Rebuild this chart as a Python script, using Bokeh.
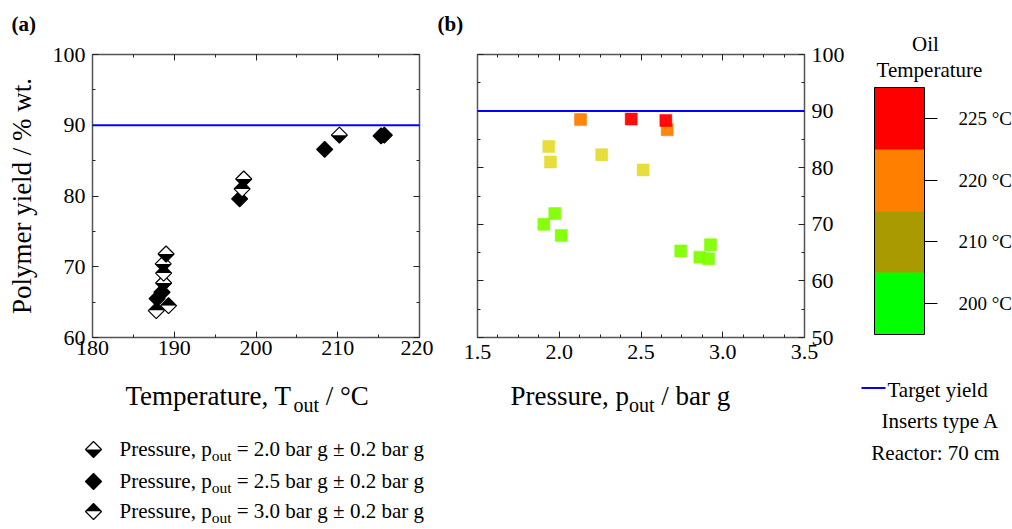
import math
from bokeh.plotting import figure
from bokeh.layouts import row, column
from bokeh.models import (Range1d, LinearAxis, SingleIntervalTicker, Span,
                          ColorBar, LinearColorMapper, FixedTicker, CustomJSTickFormatter,
                          PrintfTickFormatter)
from bokeh.core.properties import value
from bokeh.embed import file_html
from bokeh.resources import INLINE

# ---------------- data ----------------
# (a) polymer yield vs outlet temperature, grouped by outlet pressure
temp_p20 = [189.0, 188.65, 188.7, 198.5, 210.2]
yield_p20 = [71.8, 70.4, 67.7, 82.4, 88.6]
temp_p25 = [188.5, 187.9, 198.0, 208.4, 215.3, 215.7]
yield_p25 = [66.4, 65.5, 79.6, 86.6, 88.5, 88.6]
temp_p30 = [188.7, 189.3, 187.8, 198.3]
yield_p30 = [69.1, 64.5, 63.8, 81.0]

# (b) polymer yield vs outlet pressure, grouped by oil temperature
pres_200 = [1.973, 1.906, 2.012, 2.743, 2.860, 2.913, 2.925]
yield_200 = [71.9, 70.0, 68.0, 65.3, 64.2, 63.9, 66.4]
pres_210 = [1.936, 1.946, 2.260, 2.513]
yield_210 = [83.75, 81.0, 82.3, 79.6]
pres_220 = [2.130, 2.660]
yield_220 = [88.5, 86.7]
pres_225 = [2.440, 2.652]
yield_225 = [88.6, 88.35]

target_yield = 90
oil_temps = ["200 °C", "210 °C", "220 °C", "225 °C"]
oil_bar_colors = ["#00FF00", "#A89A00", "#FF8000", "#FF0000"]
point_colors = ["#80FF00", "#E6DC32", "#FF8000", "#FF0000"]
legend_pressures = ["2.0", "2.5", "3.0"]

FONT = "Liberation Serif"

# Times / Liberation Serif advance widths (per 1000 em)
TW = {' ': 250, '(': 333, ')': 333, ',': 250, '.': 250, '/': 278, ':': 278, '=': 564,
      '±': 549, '°': 400, '%': 833, 'A': 722, 'C': 667, 'P': 556, 'R': 667, 'T': 611,
      'I': 333, 'O': 722, 'a': 444, 'b': 500, 'c': 444, 'd': 500, 'e': 444, 'g': 500,
      'i': 278, 'l': 278, 'm': 778, 'n': 500, 'o': 500, 'p': 500, 'r': 333, 's': 389,
      't': 278, 'u': 500, 'w': 722, 'y': 500}


def tw(s, size):
    return sum(TW.get(c, 500) for c in s) * size / 1000.0


def noalign(p):
    try:
        p.frame_align = False
    except Exception:
        pass


blank = CustomJSTickFormatter(code="return '';")


def style_axis(ax, labels=True, standoff=7):
    ax.axis_line_color = "#555555"
    ax.axis_line_width = 1.5
    ax.major_tick_in = 6
    ax.major_tick_out = 0
    ax.minor_tick_in = 3
    ax.minor_tick_out = 0
    ax.major_tick_line_color = "#222222"
    ax.minor_tick_line_color = "#222222"
    ax.major_label_text_font = FONT
    ax.major_label_text_font_size = "22px"
    ax.major_label_text_color = "black"
    ax.major_label_standoff = standoff
    if not labels:
        ax.formatter = blank
        ax.major_label_standoff = 0
        ax.major_label_text_font_size = "0px"


def canvas(w, h, x0, y0):
    f = figure(width=w, height=h, x_range=Range1d(x0, x0 + w), y_range=Range1d(y0 + h, y0),
               output_backend="svg", toolbar_location=None, min_border=0,
               x_axis_location=None, y_axis_location=None)
    f.grid.visible = False
    f.outline_line_color = None
    noalign(f)
    return f


def txt(f, x, y, s, size, align="left", style="normal"):
    # y is the wanted baseline; correct for the renderer's baseline placement
    f.text(x=[x], y=[y - 0.35 * size], text=[s], text_font=value(FONT),
           text_font_size=f"{size}px", text_align=align, text_baseline="alphabetic",
           text_font_style=style, text_color="black")


def draw_diamonds(p, xv, yv, top, bottom, dx, dy):
    # dy is the visual "up" half height in data units (signed)
    if top == bottom:
        p.patches([[x - dx, x, x + dx, x] for x in xv],
                  [[y, y + dy, y, y - dy] for y in yv],
                  fill_color=top, line_color="black", line_width=1.2)
        return
    p.patches([[x - dx, x, x + dx] for x in xv], [[y, y + dy, y] for y in yv],
              fill_color=top, line_color=None)
    p.patches([[x - dx, x, x + dx] for x in xv], [[y, y - dy, y] for y in yv],
              fill_color=bottom, line_color=None)
    p.patches([[x - dx, x, x + dx, x] for x in xv],
              [[y, y + dy, y, y - dy] for y in yv],
              fill_color=None, line_color="black", line_width=1.2)


def sub_label(f, x0, base, main, sub, tail, size, sub_size, sub_drop):
    txt(f, x0, base, main, size)
    x1 = x0 + tw(main, size)
    txt(f, x1, base + sub_drop, sub, sub_size)
    x2 = x1 + tw(sub, sub_size)
    lead = len(tail) - len(tail.lstrip(" "))
    txt(f, x2 + lead * tw(" ", size), base, tail.lstrip(" "), size)


FW, FH = 327, 283

# ---------------- panel (a) ----------------
topA = canvas(433, 40, 0, 0)
txt(topA, 11, 31, "(a)", 21, style="bold")

pa = figure(width=433, height=328, x_range=Range1d(180, 220), y_range=Range1d(60, 100),
            output_backend="svg", toolbar_location=None,
            min_border_left=92, min_border_right=433 - 92 - FW, min_border_top=14,
            min_border_bottom=31)
noalign(pa)
pa.grid.visible = False
pa.outline_line_color = None
xt_a = SingleIntervalTicker(interval=10, num_minor_ticks=2)
yt_a = SingleIntervalTicker(interval=10, num_minor_ticks=2)
pa.xaxis[0].ticker = xt_a
pa.yaxis[0].ticker = yt_a
style_axis(pa.xaxis[0], True, 3)
style_axis(pa.yaxis[0], True, 7)
pa.yaxis[0].axis_label = "Polymer yield / % wt."
pa.yaxis[0].axis_label_text_font = FONT
pa.yaxis[0].axis_label_text_font_size = "27px"
pa.yaxis[0].axis_label_text_font_style = "normal"
pa.yaxis[0].axis_label_text_color = "black"
pa.yaxis[0].axis_label_standoff = 13
ax_r = LinearAxis(ticker=yt_a)
ax_t = LinearAxis(ticker=xt_a)
pa.add_layout(ax_r, "right")
pa.add_layout(ax_t, "above")
style_axis(ax_r, False)
style_axis(ax_t, False)

pa.add_layout(Span(location=target_yield, dimension="width", line_color="#0000FF", line_width=2))

dxa = 8 * 40 / FW
dya = 8 * 40 / FH
draw_diamonds(pa, temp_p25, yield_p25, "black", "black", dxa, dya)
draw_diamonds(pa, temp_p20, yield_p20, "white", "black", dxa, dya)
draw_diamonds(pa, temp_p30, yield_p30, "black", "white", dxa, dya)

# axis title + legend under (a)
legA = canvas(433, 161, 0, 368)
sub_label(legA, 125, 405, "Temperature, T", "out", " / °C", 27, 20, 6)
row_y = [449, 481, 511]
leg_fills = [("white", "black"), ("black", "black"), ("black", "white")]
for yy, pr, (tf, bf) in zip(row_y, legend_pressures, leg_fills):
    draw_diamonds(legA, [93], [yy], tf, bf, 8, -8)
    sub_label(legA, 119, yy + 6.5, "Pressure, p", "out", f" = {pr} bar g ± 0.2 bar g", 21, 15.5, 5)

# ---------------- panel (b) ----------------
topB = canvas(415, 40, 433, 0)
txt(topB, 437, 31, "(b)", 21, style="bold")

pb = figure(width=415, height=328, x_range=Range1d(1.5, 3.5), y_range=Range1d(50, 100),
            output_backend="svg", toolbar_location=None, y_axis_location="right",
            min_border_left=477 - 433, min_border_right=415 - 44 - FW, min_border_top=14,
            min_border_bottom=31)
noalign(pb)
pb.grid.visible = False
pb.outline_line_color = None
xt_b = SingleIntervalTicker(interval=0.5, num_minor_ticks=4)
yt_b = SingleIntervalTicker(interval=10, num_minor_ticks=2)
pb.xaxis[0].ticker = xt_b
pb.yaxis[0].ticker = yt_b
style_axis(pb.xaxis[0], True, 7)
style_axis(pb.yaxis[0], True, 7)
pb.xaxis[0].formatter = PrintfTickFormatter(format="%.1f")
bx_l = LinearAxis(ticker=yt_b)
bx_t = LinearAxis(ticker=xt_b)
pb.add_layout(bx_l, "left")
pb.add_layout(bx_t, "above")
style_axis(bx_l, False)
style_axis(bx_t, False)

pb.add_layout(Span(location=target_yield, dimension="width", line_color="#0000FF", line_width=2))

for xs_, ys_, col in zip([pres_200, pres_210, pres_220, pres_225],
                         [yield_200, yield_210, yield_220, yield_225], point_colors):
    pb.scatter(xs_, ys_, marker="square", size=12, fill_color=col, line_color=col,
               line_alpha=0.5, fill_alpha=0.95)

legB = canvas(415, 161, 433, 368)
sub_label(legB, 510, 405, "Pressure, p", "out", " / bar g", 27, 20, 6)

# ---------------- colour bar + side texts ----------------
pc = canvas(164, 529, 848, 0)
mapper = LinearColorMapper(palette=oil_bar_colors, low=0, high=len(oil_bar_colors))
cb = ColorBar(color_mapper=mapper, location=(874 - 848, 529 - 334), width=50, height=247,
              padding=0,
              ticker=FixedTicker(ticks=[i + 0.5 for i in range(len(oil_temps))], minor_ticks=[]),
              formatter=CustomJSTickFormatter(args=dict(labels=oil_temps),
                                              code="return labels[Math.floor(tick)];"),
              major_tick_in=0, major_tick_out=13, major_tick_line_color="black",
              minor_tick_line_color=None, bar_line_color="black", bar_line_width=1,
              border_line_color=None, background_fill_color=None,
              label_standoff=21, major_label_text_font=FONT,
              major_label_text_font_size="19px", major_label_text_color="black")
pc.add_layout(cb)

txt(pc, 925, 51, "Oil", 21, align="center")
txt(pc, 929, 77, "Temperature", 21, align="center")
pc.segment(x0=[861], y0=[387.5], x1=[885], y1=[387.5], line_color="#0000FF", line_width=2)
txt(pc, 887, 397, "Target yield", 21)
txt(pc, 940, 427.5, "Inserts type A", 21, align="center")
txt(pc, 935, 459.5, "Reactor: 70 cm", 21, align="center")

layout = row(column(topA, pa, legA), column(topB, pb, legB), pc)
open("out.html", "w").write(file_html(layout, INLINE))
